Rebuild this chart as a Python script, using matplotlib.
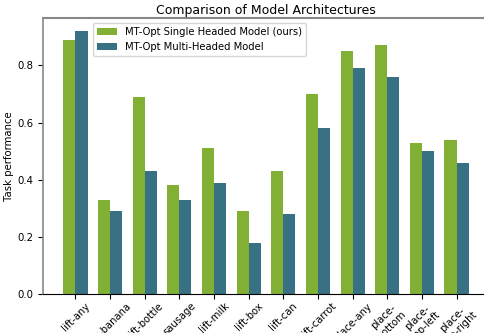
import matplotlib
matplotlib.use("Agg")
import matplotlib.pyplot as plt
import numpy as np

categories = ["lift-any", "lift-banana", "lift-bottle", "sausage", "lift-milk", "lift-box",
              "lift-can", "lift-carrot", "place-any", "place-\nbottom", "place-\ntop-left", "place-\ntop-right"]
single_head = [0.89, 0.33, 0.69, 0.38, 0.51, 0.29, 0.43, 0.70, 0.85, 0.87, 0.53, 0.54]
multi_head = [0.92, 0.29, 0.43, 0.33, 0.39, 0.18, 0.28, 0.58, 0.79, 0.76, 0.50, 0.46]
series_labels = ["MT-Opt Single Headed Model (ours)", "MT-Opt Multi-Headed Model"]
colors = ["#82B034", "#387084"]

W, H, DPI = 485, 333, 100
fig = plt.figure(figsize=(W / DPI, H / DPI), dpi=DPI)
ax = fig.add_axes([43 / W, 1 - 294 / H, (489 - 43) / W, (294 - 18) / H])

x = np.arange(len(categories))
width = 0.35
ax.bar(x - width / 2, single_head, width, color=colors[0], label=series_labels[0])
ax.bar(x + width / 2, multi_head, width, color=colors[1], label=series_labels[1])

ax.set_xticks(x)
ax.set_xticklabels(categories, rotation=45, ha="center", fontsize=7.2)
ax.tick_params(axis="x", pad=1.5)
ax.tick_params(axis="y", labelsize=7.3)
ax.set_yticks([0.0, 0.2, 0.4, 0.6, 0.8])
ax.set_ylabel("Task performance", fontsize=7.3)
ax.yaxis.set_label_coords(-0.064, 0.5)
ax.set_title("Comparison of Model Architectures", fontsize=9, pad=3)
ax.legend(loc="upper left", bbox_to_anchor=(0.1, 1.0), fontsize=7.2, frameon=True)

ax.spines["top"].set_color("#888888")
ax.spines["top"].set_linewidth(1.5)
ax.spines["left"].set_color("#888888")
ax.spines["left"].set_linewidth(1.2)
ax.spines["bottom"].set_color("black")

fig.savefig("out.png", dpi=DPI)
